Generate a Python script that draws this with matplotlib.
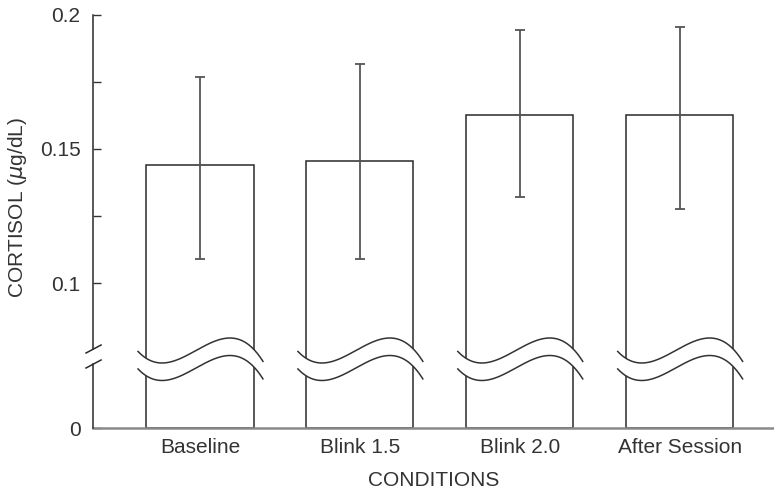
import numpy as np
import matplotlib
matplotlib.use('Agg')
import matplotlib.pyplot as plt
from matplotlib.transforms import blended_transform_factory
from matplotlib.lines import Line2D

plt.rcParams['font.family'] = ['Liberation Sans', 'DejaVu Sans']

conditions = ['Baseline', 'Blink 1.5', 'Blink 2.0', 'After Session']
means = [0.144, 0.1455, 0.1627, 0.1627]
err_low = [0.109, 0.109, 0.1321, 0.1276]
err_high = [0.177, 0.1817, 0.1944, 0.1955]
major_ticks = [0, 0.1, 0.15, 0.2]
major_labels = ['0', '0.1', '0.15', '0.2']
minor_ticks = [0.125, 0.175]

# broken axis: everything under b is squeezed
b = 0.0724
k = 0.366

def forward(v):
    v = np.asarray(v, dtype=float)
    return np.where(v >= b, v, b - (b - v) * k)

def inverse(u):
    u = np.asarray(u, dtype=float)
    return np.where(u >= b, u, b - (b - u) / k)

fig = plt.figure(figsize=(7.74, 4.91), dpi=100)
ax = fig.add_axes([0.1202, 0.1283, 0.8798, 0.8412])
ax.set_yscale('function', functions=(forward, inverse))

x = np.arange(len(conditions))
yerr = [np.array(means) - np.array(err_low), np.array(err_high) - np.array(means)]
ax.bar(x, means, width=0.67, color='white', edgecolor='#2a2a2a', linewidth=1.1, zorder=2)
ax.errorbar(x, means, yerr=yerr, fmt='none', ecolor='#555555', elinewidth=1.3,
            capsize=3.8, capthick=1.3, zorder=3)

ax.set_ylim(0, 0.2)
ax.set_xlim(-0.669, 3.59)

ax.set_yticks(major_ticks)
ax.set_yticklabels(major_labels)
ax.set_yticks(minor_ticks, minor=True)
ax.tick_params(axis='y', which='both', direction='in', length=6, width=1,
               labelsize=15, pad=9, labelcolor='#333333', color='#333333')
ax.set_xticks(x)
ax.set_xticklabels(conditions)
ax.tick_params(axis='x', length=0, pad=7, labelsize=15, labelcolor='#333333')

ax.spines['top'].set_visible(False)
ax.spines['right'].set_visible(False)
ax.spines['left'].set_visible(False)
ax.spines['bottom'].set_color('#8a8a8a')
ax.spines['bottom'].set_linewidth(1.8)

ax.set_ylabel('CORTISOL ($\\mathit{\\mu}$g/dL)', fontsize=15, color='#333333')
ax.yaxis.set_label_coords(-0.094, 0.533)
ax.set_xlabel('CONDITIONS', fontsize=15, color='#333333', labelpad=10)

# left spine with a gap and two slashes
axh = 413.0
axw = 681.0
gap_lo = (428 - 364) / axh
gap_hi = (428 - 349) / axh
for y0, y1 in [(0, gap_lo), (gap_hi, 1)]:
    ax.add_line(Line2D([0, 0], [y0, y1], transform=ax.transAxes, color='#2a2a2a',
                       lw=1.1, clip_on=False, zorder=5))
for yc in [(428 - 349) / axh, (428 - 364) / axh]:
    ax.add_line(Line2D([-7 / axw, 8 / axw], [yc - 4 / axh, yc + 4 / axh],
                       transform=ax.transAxes, color='#2a2a2a', lw=1.1,
                       clip_on=False, zorder=5))

# wavy break over each bar
trans = blended_transform_factory(ax.transData, ax.transAxes)
t = np.linspace(-62, 63, 200)
kk = 25 / 52405.0
F = t**3 / 3 + 4 * t**2 - 1140 * t
Fmin = (-38)**3 / 3 + 4 * 38**2 + 1140 * 38
top_px = 363 + kk * (F - Fmin)
bot_px = top_px + 17.5
top_ax = (428 - top_px) / axh
bot_ax = (428 - bot_px) / axh
for xi in x:
    xs = xi + t / 160.0
    ax.fill_between(xs, bot_ax, top_ax, transform=trans, color='white', zorder=4, lw=0)
    ax.plot(xs, top_ax, transform=trans, color='#333333', lw=1.1, zorder=5)
    ax.plot(xs, bot_ax, transform=trans, color='#333333', lw=1.1, zorder=5)

fig.savefig('out.png', dpi=100)
